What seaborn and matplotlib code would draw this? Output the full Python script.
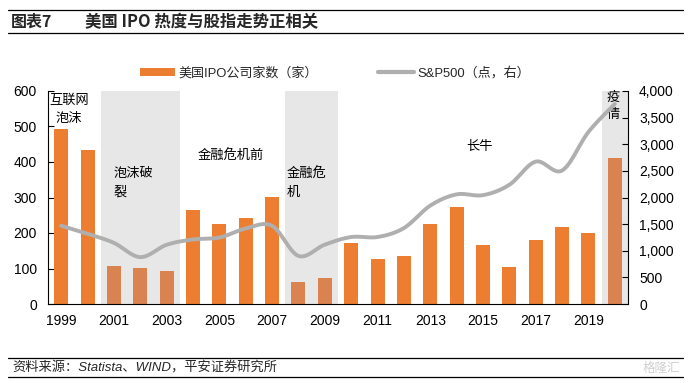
import numpy as np
import pandas as pd
import matplotlib
matplotlib.use("Agg")
import matplotlib.pyplot as plt
import seaborn as sns
from matplotlib.patches import Patch
from matplotlib.lines import Line2D

sns.set_theme(style="white")
plt.rcParams['font.family'] = ['Liberation Sans', 'Noto Sans CJK SC', 'DejaVu Sans']

# ---- data ----
years = list(range(1999, 2021))
ipo_count = [492, 435, 107, 102, 94, 266, 226, 241, 301, 62, 73, 172,
             127, 135, 225, 273, 166, 104, 180, 217, 200, 411]
sp500 = [1469, 1320, 1148, 880, 1112, 1212, 1248, 1418, 1468, 903, 1115,
         1258, 1258, 1426, 1848, 2059, 2044, 2239, 2674, 2507, 3231, 3756]
crisis_years = [2001, 2002, 2003, 2008, 2009, 2020]
xtick_years = list(range(1999, 2021, 2))
legend_labels = ["美国IPO公司家数（家）", "S&P500（点，右）"]
title_left = "图表7"
title_right = "美国 IPO 热度与股指走势正相关"
source_text = "资料来源：Statista、WIND，平安证券研究所"

ORANGE = "#ED7D31"
ORANGE_MUTED = "#DA8250"
GRAY_LINE = "#AFAFAF"
SHADE = "#E7E7E7"
CJK = ['Noto Sans CJK SC', 'DejaVu Sans']
LATIN_CJK = ['Liberation Sans', 'Noto Sans CJK SC', 'DejaVu Sans']

df = pd.DataFrame({"year": [str(y) for y in years], "ipo": ipo_count,
                   "period": ["crisis" if y in crisis_years else "normal" for y in years]})

fig = plt.figure(figsize=(6.89, 3.83), dpi=100)
ax = fig.add_axes([48/689, 1-304/383, 580/689, 213/383])

# shaded periods (contiguous spans of crisis_years)
idx = [years.index(y) for y in crisis_years]
spans = []
start = prev = idx[0]
for i in idx[1:]:
    if i == prev + 1:
        prev = i
    else:
        spans.append((start, prev)); start = prev = i
spans.append((start, prev))
for s, e in spans:
    ax.axvspan(s - 0.5, e + 0.5, color=SHADE, zorder=0, lw=0)

sns.barplot(data=df, x="year", y="ipo", hue="period",
            palette={"crisis": ORANGE_MUTED, "normal": ORANGE},
            width=0.53, dodge=False, legend=False, ax=ax, zorder=2,
            saturation=1, edgecolor="none")

ax.set_xlim(-0.5, len(years) - 0.5)
ax.set_ylim(0, 600)
ax.set_yticks(range(0, 601, 100))
ax.set_xlabel("")
ax.set_ylabel("")
ax.set_xticks([years.index(y) for y in xtick_years])
ax.set_xticklabels([str(y) for y in xtick_years])
ax.set_xticks(np.arange(-0.5, len(years), 1.0), minor=True)
ax.tick_params(axis="x", which="major", length=0, pad=7, labelsize=10, colors="black")
ax.tick_params(axis="x", which="minor", direction="in", length=4, width=0.8, color="black")
ax.tick_params(axis="y", direction="in", length=4, width=0.8, pad=8, labelsize=10,
               left=True, colors="black")
for sp in ["top", "right"]:
    ax.spines[sp].set_visible(False)
for sp in ["left", "bottom"]:
    ax.spines[sp].set_color("black")
    ax.spines[sp].set_linewidth(0.8)
ax.grid(False)

# smoothed S&P line on right axis
ax2 = ax.twinx()
P = np.column_stack([np.arange(len(years), dtype=float), np.array(sp500, dtype=float)])
xs, ys = [], []
t = np.linspace(0, 1, 25)
for i in range(len(P) - 1):
    p0 = P[i - 1] if i > 0 else P[i]
    p1, p2 = P[i], P[i + 1]
    p3 = P[i + 2] if i + 2 < len(P) else P[i + 1]
    c1 = p1 + (p2 - p0) / 6
    c2 = p2 - (p3 - p1) / 6
    b = ((1 - t)[:, None] ** 3 * p1 + 3 * ((1 - t) ** 2 * t)[:, None] * c1
         + 3 * ((1 - t) * t ** 2)[:, None] * c2 + (t ** 3)[:, None] * p2)
    xs.extend(b[:, 0]); ys.extend(b[:, 1])
sns.lineplot(x=xs, y=ys, sort=False, estimator=None, ax=ax2, color=GRAY_LINE, lw=2.8)
ax2.set_ylim(0, 4000)
ax2.set_yticks(range(0, 4001, 500))
ax2.set_yticklabels([f"{v:,}" for v in range(0, 4001, 500)])
ax2.tick_params(axis="y", direction="in", length=4, width=0.8, pad=8, labelsize=10,
                right=True, colors="black")
for sp in ["top", "left", "bottom"]:
    ax2.spines[sp].set_visible(False)
ax2.spines["right"].set_color("black")
ax2.spines["right"].set_linewidth(0.8)
ax2.grid(False)
ax.set_xlim(-0.5, len(years) - 0.5)

# annotations
ann_kw = dict(fontsize=9.5, color="black", transform=ax.transData, zorder=5, family=CJK)
ax.text(0.3, 592, "互联网\n泡沫", ha="center", va="top", linespacing=1.55, **ann_kw)
ax.text(2.0, 385, "泡沫破\n裂", ha="left", va="top", linespacing=1.55, **ann_kw)
ax.text(6.45, 435, "金融危机前", ha="center", va="top", **ann_kw)
ax.text(8.55, 385, "金融危\n机", ha="left", va="top", linespacing=1.55, **ann_kw)
ax.text(15.85, 462, "长牛", ha="center", va="top", **ann_kw)
ax.text(20.95, 600, "疫\n情", ha="center", va="top", linespacing=1.45, **ann_kw)

# legend
handles = [Patch(facecolor=ORANGE, edgecolor="none"),
           Line2D([0], [0], color=GRAY_LINE, lw=3)]
fig.legend(handles, legend_labels, loc="center left", bbox_to_anchor=(128/689, 1-73/383),
           ncol=2, frameon=False, handlelength=2.7, handleheight=0.6,
           handletextpad=0.3, columnspacing=4.6,
           prop={'family': LATIN_CJK, 'size': 9.4})

# title and rules
fig.add_artist(Line2D([8/689, 683/689], [1-10/383, 1-10/383], color="black", lw=0.9))
fig.add_artist(Line2D([8/689, 683/689], [1-33/383, 1-33/383], color="black", lw=0.9))
fig.text(11/689, 1-22/383, title_left, ha="left", va="center", fontsize=11.5,
         fontweight="bold", family=CJK)
fig.text(85/689, 1-22/383, title_right, ha="left", va="center", fontsize=11.8,
         fontweight="bold", family=CJK)

# footer
fig.add_artist(Line2D([8/689, 683/689], [1-358/383, 1-358/383], color="black", lw=0.9))
fig.add_artist(Line2D([8/689, 683/689], [1-377/383, 1-377/383], color="black", lw=0.9))
fig.text(12/689, 1-368/383, source_text, ha="left", va="center", fontsize=9.5,
         family=LATIN_CJK, style="italic")
fig.text(680/689, 1-368/383, "格隆汇", ha="right", va="center", fontsize=9,
         color="#D0D0D0", family=CJK)

fig.savefig("out.png", dpi=100)
